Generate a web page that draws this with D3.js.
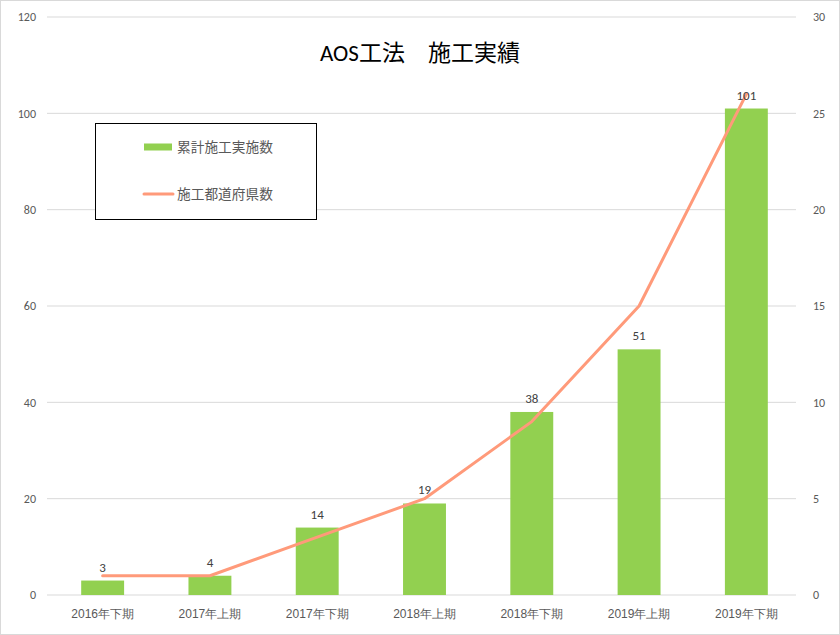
<!DOCTYPE html>
<html><head><meta charset="utf-8">
<script src="https://cdn.jsdelivr.net/npm/d3@7/dist/d3.min.js"></script>
<style>
body{margin:0;background:#fff;}
svg{display:block;font-family:Calibri,"Noto Sans CJK JP","Noto Sans",sans-serif;}
</style></head><body>
<svg id="c" width="840" height="635"></svg>
<script>
const categories = ["2016年下期","2017年上期","2017年下期","2018年上期","2018年下期","2019年上期","2019年下期"];
const barValues = [3,4,14,19,38,51,101];
const lineValues = [1,1,3,5,9,15,26];
const leftTicks = [0,20,40,60,80,100,120];
const rightTicks = [0,5,10,15,20,25,30];
const title = "AOS工法　施工実績";
const barName = "累計施工実施数";
const lineName = "施工都道府県数";

(function(){
const W=840,H=635;
const svg=d3.select("#c");
svg.append("rect").attr("x",0.5).attr("y",0.5).attr("width",W-1).attr("height",H-1)
  .attr("fill","#fff").attr("stroke","#d9d9d9");

const pl=49,pr=800,pt=17,pb=595;
const x=d3.scaleBand().domain(categories).range([pl,pr]).paddingInner(0.6).paddingOuter(0.3);
const xc=d3.scalePoint().domain(categories).range([pl,pr]).padding(0.5);
const yL=d3.scaleLinear().domain([0,120]).range([pb,pt]);
const yR=d3.scaleLinear().domain([0,30]).range([pb,pt]);
const numFont="Calibri,Carlito,'Liberation Sans',sans-serif";

svg.append("g").selectAll("line").data(leftTicks).join("line")
  .attr("x1",pl-2).attr("x2",pr-4).attr("y1",d=>yL(d)).attr("y2",d=>yL(d))
  .attr("stroke","#d9d9d9").attr("stroke-width",1);

const gl=svg.append("g").attr("transform",`translate(${pl},0)`)
  .call(d3.axisLeft(yL).tickValues(leftTicks).tickSize(0).tickPadding(13));
gl.select(".domain").remove();
gl.selectAll("text").attr("fill","#595959").style("font-size","12px").style("font-family",numFont);

const gr=svg.append("g").attr("transform",`translate(${pr},0)`)
  .call(d3.axisRight(yR).tickValues(rightTicks).tickSize(0).tickPadding(13));
gr.select(".domain").remove();
gr.selectAll("text").attr("fill","#595959").style("font-size","12px").style("font-family",numFont);

const gx=svg.append("g").attr("transform",`translate(0,${pb})`)
  .call(d3.axisBottom(x).tickSize(0).tickPadding(14));
gx.select(".domain").remove();
gx.selectAll("text").attr("fill","#595959").style("font-size","12px");

svg.append("g").selectAll("rect").data(barValues).join("rect")
  .attr("x",(d,i)=>x(categories[i])).attr("width",x.bandwidth())
  .attr("y",d=>yL(d)).attr("height",d=>pb-yL(d)).attr("fill","#92d050");

const line=d3.line().x((d,i)=>xc(categories[i])).y(d=>yR(d));
svg.append("path").datum(lineValues).attr("d",line).attr("fill","none")
  .attr("stroke","#ff9a7a").attr("stroke-width",3).attr("stroke-linejoin","round").attr("stroke-linecap","round");

svg.append("g").selectAll("text").data(barValues).join("text")
  .attr("x",(d,i)=>x(categories[i])+x.bandwidth()/2).attr("y",d=>yL(d)-9)
  .attr("text-anchor","middle").attr("fill","#404040").style("font-size","13px")
  .style("font-family",numFont).text(d=>d);

svg.append("text").attr("x",420).attr("y",61).attr("text-anchor","middle")
  .attr("fill","#000").style("font-size","23px").text(title);

const lg=svg.append("g");
lg.append("rect").attr("x",95.5).attr("y",123.5).attr("width",221).attr("height",96)
  .attr("fill","#fff").attr("stroke","#000").attr("stroke-width",1);
lg.append("rect").attr("x",144).attr("y",143.5).attr("width",28).attr("height",7).attr("fill","#92d050");
lg.append("text").attr("x",177).attr("y",152).attr("fill","#595959").style("font-size","13.7px").text(barName);
lg.append("line").attr("x1",144).attr("x2",173).attr("y1",194).attr("y2",194)
  .attr("stroke","#ff9a7a").attr("stroke-width",3).attr("stroke-linecap","round");
lg.append("text").attr("x",177).attr("y",199).attr("fill","#595959").style("font-size","13.7px").text(lineName);
})();
</script>
</body></html>
